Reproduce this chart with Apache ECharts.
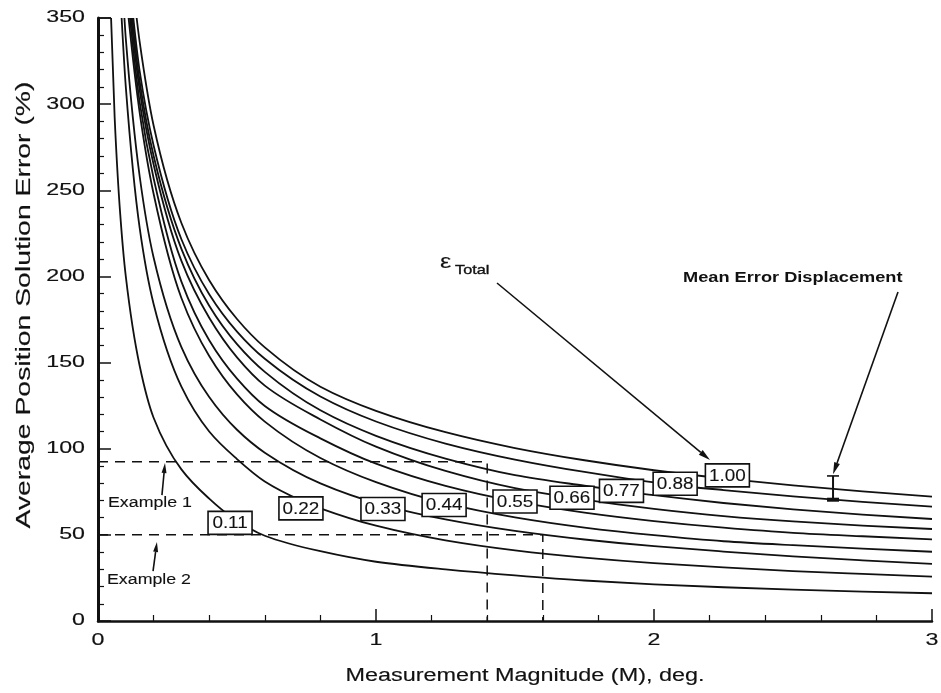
<!DOCTYPE html>
<html>
<head>
<meta charset="utf-8">
<script src="https://cdn.jsdelivr.net/npm/echarts@6/dist/echarts.min.js"></script>
<style>
  html, body { margin: 0; padding: 0; background: #ffffff; }
  #chart { width: 941px; height: 693px; }
</style>
</head>
<body>
<div id="chart"></div>
<script>
// Average position solution error (%) versus measurement magnitude M (deg),
// one curve for each total error level.
const errorLevels = ['0.11', '0.22', '0.33', '0.44', '0.55', '0.66', '0.77', '0.88', '1.00'];

const m011 = [0.047, 0.06, 0.08, 0.1, 0.15, 0.2, 0.3, 0.4, 0.475, 0.6, 0.8, 1.0, 1.25, 1.5, 1.75, 2.0, 2.25, 2.5, 2.75, 3.0];
const v011 = [350, 292, 236, 200, 148, 118, 88, 71, 61, 49.5, 40.5, 34.4, 30, 26.5, 23.5, 21.3, 19.6, 18.2, 17.1, 16.1];

const m022 = [0.085, 0.1, 0.15, 0.2, 0.3, 0.4, 0.5, 0.6, 0.73, 0.8, 1.0, 1.25, 1.5, 1.75, 2.0, 2.25, 2.5, 2.75, 3.0];
const v022 = [350, 310, 228, 184, 136, 110, 94, 81, 70, 65.4, 55.3, 46.8, 41, 36.8, 33.6, 31.1, 29, 27.3, 25.7];

const m033 = [0.095, 0.1, 0.15, 0.2, 0.3, 0.4, 0.5, 0.6, 0.8, 1.025, 1.25, 1.5, 1.75, 2.0, 2.25, 2.5, 2.75, 3.0];
const v033 = [350, 338, 258, 211, 159, 130, 111, 97.7, 79.9, 67.3, 59, 52.3, 47.3, 43.4, 40.3, 37.5, 35.2, 33.1];

const m044 = [0.11, 0.15, 0.2, 0.3, 0.4, 0.5, 0.6, 0.8, 1.0, 1.245, 1.5, 1.75, 2.0, 2.25, 2.5, 2.75, 3.0];
const v044 = [350, 295, 248, 187.5, 153.8, 131.5, 115.7, 94.6, 80.6, 68.5, 60.1, 54.2, 49.8, 46.3, 44, 42, 40.2];

const m055 = [0.115, 0.15, 0.2, 0.3, 0.4, 0.5, 0.6, 0.8, 1.0, 1.25, 1.5, 1.75, 2.0, 2.25, 2.5, 2.75, 3.0];
const v055 = [350, 301, 257, 197, 163, 140.7, 124.8, 106, 91.3, 78.4, 69.4, 62.9, 58, 54.2, 51.2, 49.2, 47.4];

const m066 = [0.119, 0.15, 0.2, 0.3, 0.4, 0.5, 0.6, 0.8, 1.0, 1.25, 1.5, 1.705, 2.0, 2.25, 2.5, 2.75, 3.0];
const v066 = [350, 308, 265, 209, 176, 153, 136.6, 117, 101.2, 87.1, 77.1, 71.5, 65.1, 60.9, 57.8, 55.4, 53.4];

const m077 = [0.123, 0.15, 0.2, 0.3, 0.4, 0.5, 0.6, 0.8, 1.0, 1.25, 1.5, 1.75, 1.883, 2.0, 2.25, 2.5, 2.75, 3.0];
const v077 = [350, 313, 270, 216, 183, 160.7, 144.6, 122.3, 107.5, 94.3, 84.7, 78.5, 75.5, 73, 68.5, 64.8, 61.7, 59.2];

const m088 = [0.127, 0.15, 0.2, 0.3, 0.4, 0.5, 0.6, 0.8, 1.0, 1.25, 1.5, 1.75, 2.076, 2.25, 2.5, 2.75, 3.0];
const v088 = [350, 319, 276, 221.6, 189.7, 168, 152.2, 130.3, 115.8, 103, 93.7, 86.5, 78.8, 76, 72.3, 69.2, 66.4];

const m100 = [0.139, 0.15, 0.2, 0.3, 0.4, 0.5, 0.6, 0.8, 1.0, 1.25, 1.5, 1.75, 2.0, 2.264, 2.5, 2.75, 3.0];
const v100 = [350, 336, 287.6, 231, 197.8, 175.3, 158.8, 136, 122, 109.6, 100.4, 93.3, 87.5, 82.5, 78.7, 75.2, 72.2];

// M at which each curve carries its boxed level label
const labelM = [0.475, 0.73, 1.025, 1.245, 1.5, 1.705, 1.883, 2.076, 2.264];

const example1 = { m: 1.4, v: 92.5 };
const example2 = { m: 1.6, v: 50 };

// Mean error displacement bar
const meanBar = { m: 2.644, low: 70.4, high: 84.2 };

// Axis tick labels
const xTicks = [0, 1, 2, 3];
const yTicks = [0, 50, 100, 150, 200, 250, 300, 350];

const curveM = [m011, m022, m033, m044, m055, m066, m077, m088, m100];
const curveV = [v011, v022, v033, v044, v055, v066, v077, v088, v100];

const FONT = '"Liberation Sans", Arial, Helvetica, sans-serif';
const INK = '#111111';

// vertical shift (px) of each label box relative to its curve
const labelNudge = [7, 8, 4, 2, 0, 0, 0, -1.5, -3.5];

// Smooth path through screen points: piecewise cubic Hermite with
// shape-preserving (harmonic mean) tangents, written as Bezier segments.
function smoothPath(pts) {
  const n = pts.length;
  const h = [], d = [];
  for (let k = 0; k < n - 1; k++) {
    h.push(pts[k + 1][0] - pts[k][0]);
    d.push((pts[k + 1][1] - pts[k][1]) / h[k]);
  }
  const t = new Array(n).fill(0);
  for (let k = 1; k < n - 1; k++) {
    if (d[k - 1] * d[k] > 0) {
      const w1 = 2 * h[k] + h[k - 1], w2 = h[k] + 2 * h[k - 1];
      t[k] = (w1 + w2) / (w1 / d[k - 1] + w2 / d[k]);
    }
  }
  const endT = (h0, h1, d0, d1) => {
    let m = ((2 * h0 + h1) * d0 - h0 * d1) / (h0 + h1);
    if (m * d0 <= 0) m = 0;
    else if (d0 * d1 <= 0 && Math.abs(m) > 3 * Math.abs(d0)) m = 3 * d0;
    return m;
  };
  t[0] = n > 2 ? endT(h[0], h[1], d[0], d[1]) : d[0];
  t[n - 1] = n > 2 ? endT(h[n - 2], h[n - 3], d[n - 2], d[n - 3]) : d[n - 2];
  let s = 'M' + pts[0][0] + ' ' + pts[0][1];
  for (let k = 0; k < n - 1; k++) {
    const c = h[k] / 3;
    s += ' C' + (pts[k][0] + c) + ' ' + (pts[k][1] + t[k] * c) + ' ' +
         (pts[k + 1][0] - c) + ' ' + (pts[k + 1][1] - t[k + 1] * c) + ' ' +
         pts[k + 1][0] + ' ' + pts[k + 1][1];
  }
  return s;
}

const chart = echarts.init(document.getElementById('chart'), null, { renderer: 'canvas' });

const series = [{
  name: 'curves',
  type: 'custom',
  coordinateSystem: 'cartesian2d',
  data: labelM.map((m, i) => [i, m, curveV[i][curveM[i].indexOf(m)]]),
  encode: { x: 1, y: 2 },
  renderItem: function (params, api) {
    const i = api.value(0);
    const pts = curveM[i].map((m, k) => api.coord([m, curveV[i][k]]));
    return {
      type: 'path',
      shape: { pathData: smoothPath(pts) },
      style: { fill: 'none', stroke: INK, lineWidth: 1.8 }
    };
  },
  clip: true,
  silent: true,
  z: 2
}];

// dashed read-off lines for the two examples
[example1, example2].forEach(ex => {
  series.push({
    type: 'line',
    data: [[0, ex.v], [ex.m, ex.v], [ex.m, 0]],
    symbol: 'none',
    lineStyle: { color: INK, width: 1.5, type: [10, 7] },
    z: 1,
    silent: true
  });
});

chart.setOption({
  animation: false,
  backgroundColor: '#ffffff',
  grid: { left: 98, right: 9, top: 18, bottom: 72, containLabel: false },
  xAxis: {
    type: 'value', min: 0, max: 3, interval: 1,
    axisLine: { show: true, lineStyle: { color: INK, width: 2.5 } },
    axisTick: { show: true, inside: true, length: 12, lineStyle: { color: INK, width: 1.5 } },
    minorTick: { show: true, splitNumber: 5, length: 6, lineStyle: { color: INK, width: 1.2 } },
    axisLabel: { show: false },
    splitLine: { show: false }
  },
  yAxis: {
    type: 'value', min: 0, max: 350, interval: 50,
    axisLine: { show: true, lineStyle: { color: INK, width: 3 } },
    axisTick: { show: true, inside: true, length: 13, lineStyle: { color: INK, width: 1.5 } },
    minorTick: { show: true, splitNumber: 5, length: 6, lineStyle: { color: INK, width: 1.2 } },
    axisLabel: { show: false },
    splitLine: { show: false }
  },
  series: series
});

// ---- labels, annotations and stretched lettering, placed through the axes ----
const px = (m, v) => chart.convertToPixel({ gridIndex: 0 }, [m, v]);
const g = [];

function txt(x, y, text, size, opts) {
  opts = opts || {};
  g.push({
    type: 'text', x: x, y: y,
    rotation: opts.rotation || 0,
    scaleX: opts.scaleX || 1.3,
    style: {
      text: text, fill: INK,
      stroke: INK, lineWidth: opts.thick == null ? 0.15 : opts.thick,
      font: (opts.weight || 'normal') + ' ' + size + 'px ' + FONT,
      textAlign: opts.align || 'left', textVerticalAlign: 'middle'
    },
    z: 20
  });
}

function arrow(from, to, head, width) {
  const [x1, y1] = from, [x2, y2] = to;
  const ang = Math.atan2(y2 - y1, x2 - x1);
  const bx = x2 - head * Math.cos(ang), by = y2 - head * Math.sin(ang);
  const nx = -Math.sin(ang) * width / 2, ny = Math.cos(ang) * width / 2;
  g.push({ type: 'line', shape: { x1: x1, y1: y1, x2: bx, y2: by }, style: { stroke: INK, lineWidth: 1.6 }, z: 20 });
  g.push({ type: 'polygon', shape: { points: [[x2, y2], [bx + nx, by + ny], [bx - nx, by - ny]] }, style: { fill: INK }, z: 20 });
}

// short top edge from the axis to the first curve
const topA = px(0, 350), topB = px(m011[0], 350);
g.push({ type: 'line', shape: { x1: topA[0], y1: topA[1], x2: topB[0], y2: topB[1] }, style: { stroke: INK, lineWidth: 1.5 }, z: 20 });

// boxed level labels on their curves
labelM.forEach((m, i) => {
  const v = curveV[i][curveM[i].indexOf(m)];
  const p = px(m, v);
  const cy = p[1] + labelNudge[i];
  g.push({ type: 'rect', shape: { x: p[0] - 22, y: cy - 11.5, width: 44, height: 23 },
           style: { fill: '#ffffff', stroke: INK, lineWidth: 1.6 }, z: 15 });
  txt(p[0], cy + 1, errorLevels[i], 16, { align: 'center', scaleX: 1.18, thick: 0.1 });
});

// tick labels
xTicks.forEach(t => { const p = px(t, 0); txt(p[0], p[1] + 20, String(t), 16, { align: 'center', scaleX: 1.45 }); });
yTicks.forEach(t => { const p = px(0, t); txt(p[0] - 13, p[1], String(t), 16, { align: 'right', scaleX: 1.45 }); });

// axis titles
txt(525, 676, 'Measurement Magnitude (M), deg.', 18, { align: 'center', scaleX: 1.3 });
txt(24, 305, 'Average Position Solution Error (%)', 21, { align: 'center', rotation: Math.PI / 2, scaleX: 1.35 });

// example captions and arrows
txt(108, 503, 'Example 1', 14, { scaleX: 1.27, thick: 0.1 });
txt(107, 580, 'Example 2', 14, { scaleX: 1.27, thick: 0.1 });
arrow(px(0.230, 73.1), px(0.241, 91.7), 10, 5);
arrow(px(0.198, 29.0), px(0.212, 45.9), 10, 5);

// total error callout
txt(440, 262, '\u03b5', 21, { scaleX: 1.2, thick: 0.1 });
txt(455, 270, 'Total', 13, { scaleX: 1.25, thick: 0.35 });
arrow([497, 283], [710, 460], 12, 6);

// mean error displacement callout and bar
txt(683, 278, 'Mean Error Displacement', 14, { scaleX: 1.3, weight: 'bold', thick: 0 });
arrow([898, 292], px(meanBar.m, meanBar.high + 1), 12, 6);
const bTop = px(meanBar.m, meanBar.high), bBot = px(meanBar.m, meanBar.low);
g.push({ type: 'line', shape: { x1: bTop[0], y1: bTop[1], x2: bBot[0], y2: bBot[1] }, style: { stroke: INK, lineWidth: 2 }, z: 20 });
g.push({ type: 'line', shape: { x1: bTop[0] - 6, y1: bTop[1], x2: bTop[0] + 6, y2: bTop[1] }, style: { stroke: INK, lineWidth: 1.6 }, z: 20 });
g.push({ type: 'rect', shape: { x: bBot[0] - 6, y: bBot[1] - 2, width: 12, height: 4 }, style: { fill: INK }, z: 20 });

chart.setOption({ graphic: g });
</script>
</body>
</html>
